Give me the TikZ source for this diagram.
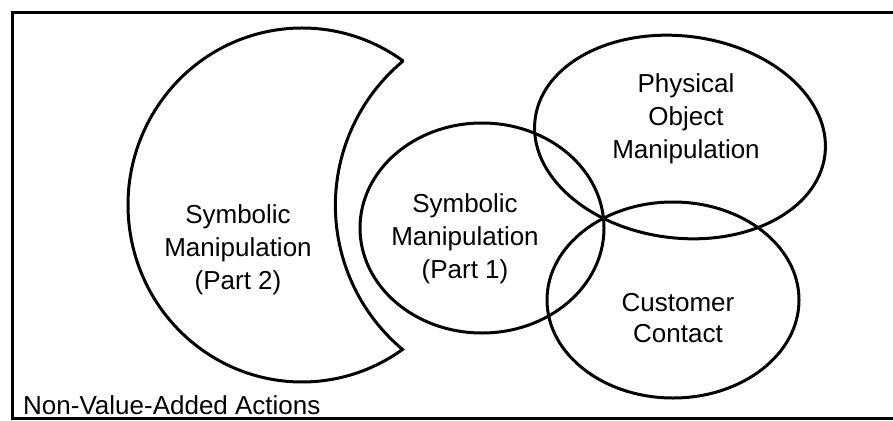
\documentclass[tikz,border=0pt]{standalone}
\usepackage{fontspec}
\setmainfont{Liberation Sans}
\usetikzlibrary{shapes.geometric}
\begin{document}
\begin{tikzpicture}[x=1pt,y=-1pt,
  outline/.style={draw=black, line width=3pt},
  venn/.style={outline, ellipse, inner sep=0pt, outer sep=0pt},
  lbl/.style={align=center, font=\fontsize{26}{33}\selectfont, inner sep=0pt},
]
\fill[white] (0,0) rectangle (893,420);
\useasboundingbox (0,0) rectangle (893,420);
% frame
\coordinate (ftr) at (893,12.5);
\coordinate (ftl) at (12.5,12.5);
\coordinate (fbl) at (12.5,418.5);
\coordinate (fbr) at (893,418.5);
\draw[outline] (ftr) -- (ftl) -- (fbl) -- (fbr);
% crescent (Symbolic Manipulation Part 2)
\draw[outline, line join=miter] ([shift={(302,205)}]-54.7:174 and 177)
  arc[start angle=-54.7, end angle=-305.3, x radius=174, y radius=177]
  arc[start angle=130, end angle=230, radius=188] -- cycle;
\node[lbl] (sm2) at (238,250) {Symbolic\\Manipulation\\(Part 2)};
% ellipses
\node[venn, minimum width=244, minimum height=210] (sm1) at (482,228) {};
\node[venn, minimum width=292, minimum height=202, rotate=-7] (pom) at (680,137) {};
\node[venn, minimum width=252, minimum height=196] (cc) at (673,300) {};
% labels
\node[lbl] (sm1t) at (465,239) {Symbolic\\Manipulation\\(Part 1)};
\node[lbl] (pomt) at (686,119) {Physical\\Object\\Manipulation};
\node[lbl, font=\fontsize{26}{31}\selectfont] (cct) at (678,318) {Customer\\Contact};
\node[lbl, anchor=base west] (nva) at (23,414) {Non-Value-Added Actions};
\end{tikzpicture}
\end{document}
